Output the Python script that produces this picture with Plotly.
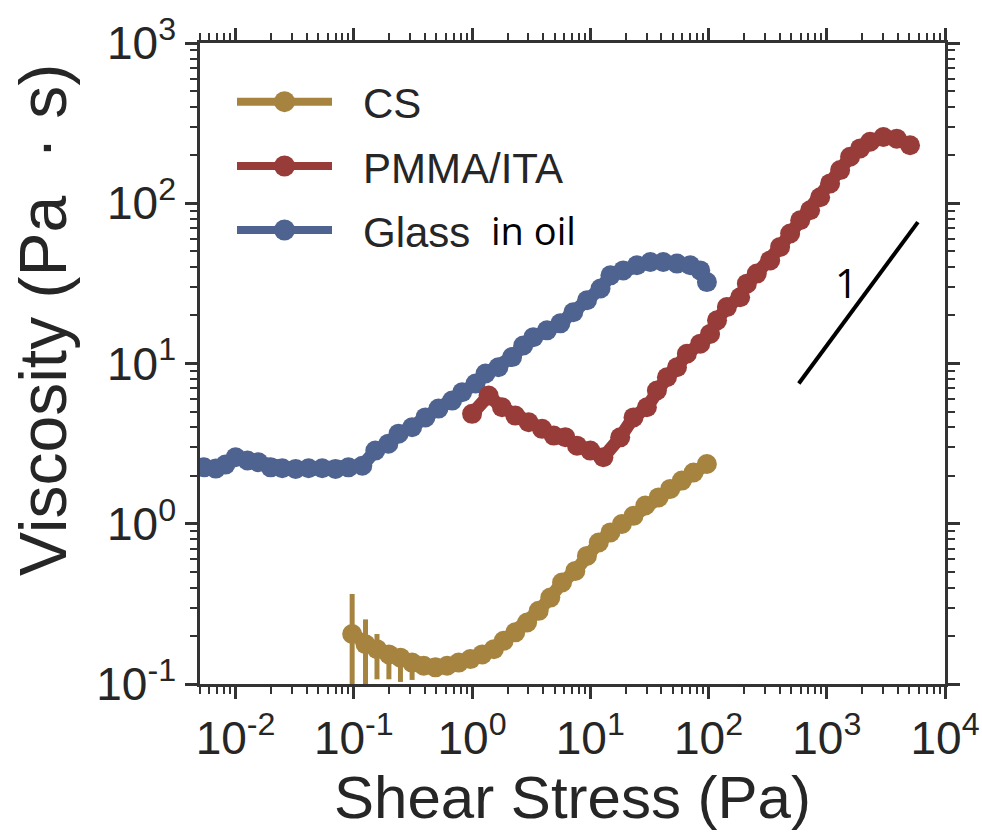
import plotly.graph_objects as go

# ---- data -------------------------------------------------------------
# Glass in oil
glass_stress = [0.0054, 0.0068, 0.0082, 0.0100, 0.0126, 0.0156, 0.0198, 0.0248,
                0.0322, 0.0414, 0.054, 0.070, 0.090, 0.118, 0.152, 0.196, 0.239,
                0.311, 0.403, 0.52, 0.678, 0.824, 1.07, 1.30, 1.67, 2.18, 2.71,
                3.30, 4.30, 5.58, 7.18, 9.38, 12.2, 14.8, 19.0, 24.8, 32.2, 41.4,
                54.1, 70.0, 85.1, 96.9]
glass_visc = [2.25, 2.21, 2.34, 2.60, 2.48, 2.42, 2.25, 2.22, 2.20, 2.22, 2.22,
              2.20, 2.25, 2.30, 2.86, 3.16, 3.65, 4.00, 4.61, 5.23, 5.87, 6.62,
              7.50, 8.66, 9.48, 10.97, 12.96, 14.6, 16.1, 17.8, 20.9, 24.8, 29.4,
              35.5, 38.1, 41.0, 43.0, 43.0, 42.0, 41.0, 38.1, 32.2]

# PMMA/ITA
pmma_stress = [1.00, 1.38, 1.79, 2.32, 3.01, 3.91, 4.90, 6.15, 7.72, 10.0, 12.9,
               17.9, 23.2, 30.1, 36.6, 44.5, 54.1, 65.6, 85.1, 103, 118, 143,
               185, 211, 256, 332, 403, 490, 596, 723, 879, 1067, 1297, 1575,
               1914, 2323, 3013, 3906, 5060]
pmma_visc = [4.85, 6.31, 5.33, 4.73, 4.30, 3.91, 3.55, 3.47, 3.07, 2.86, 2.60,
             3.46, 4.61, 5.33, 6.78, 8.21, 9.48, 11.5, 13.3, 15.3, 18.6, 22.5,
             25.9, 31.5, 36.4, 44.0, 53.4, 64.7, 78.3, 90.4, 109, 133, 161, 195,
             220, 242, 259, 253, 230]

# CS (with error bars on the low-stress points)
cs_stress = [0.0968, 0.1256, 0.157, 0.198, 0.248, 0.311, 0.390, 0.490, 0.615,
             0.771, 0.968, 1.22, 1.53, 1.85, 2.32, 2.92, 3.66, 4.59, 5.77, 7.47,
             9.37, 11.8, 14.8, 18.5, 23.2, 29.2, 37.8, 47.4, 59.5, 74.7, 96.8]
cs_visc = [0.205, 0.177, 0.165, 0.153, 0.146, 0.136, 0.130, 0.127, 0.130, 0.136,
           0.143, 0.153, 0.165, 0.186, 0.21, 0.242, 0.286, 0.346, 0.43, 0.508,
           0.63, 0.764, 0.883, 0.996, 1.12, 1.30, 1.46, 1.65, 1.86, 2.09, 2.36]
cs_err_plus = [0.160, 0.076, 0.040, 0.020, 0.021, 0.012, 0.006, 0.004, 0.003,
               0.003, 0.003, 0.003, 0.003, 0.003, 0.003, 0.003, 0.003, 0.003,
               0.004, 0.004, 0.005, 0.006, 0.007, 0.008, 0.009, 0.01, 0.01,
               0.012, 0.014, 0.016, 0.02]
cs_err_minus = [0.160, 0.080, 0.058, 0.046, 0.043, 0.030, 0.008, 0.004, 0.003,
                0.003, 0.003, 0.003, 0.003, 0.003, 0.003, 0.003, 0.003, 0.003,
                0.004, 0.004, 0.005, 0.006, 0.007, 0.008, 0.009, 0.01, 0.01,
                0.012, 0.014, 0.016, 0.02]

# slope-1 guide line
slope_x = [580, 5900]
slope_y = [7.5, 76.3]

x_tick_vals = [0.01, 0.1, 1, 10, 100, 1000, 10000]
x_tick_text = ["10<sup>-2</sup>", "10<sup>-1</sup>", "10<sup>0</sup>", "10<sup>1</sup>",
               "10<sup>2</sup>", "10<sup>3</sup>", "10<sup>4</sup>"]
y_tick_vals = [0.1, 1, 10, 100, 1000]
y_tick_text = ["10<sup>-1</sup>", "10<sup>0</sup>", "10<sup>1</sup>", "10<sup>2</sup>",
               "10<sup>3</sup>"]

# ---- style ------------------------------------------------------------
GOLD = "#A68440"
RED = "#983C3A"
BLUE = "#4F6390"
INK = "#262626"
AXIS = "#333333"
FONT = "Liberation Sans, Arial, sans-serif"
MS = 20
LW = 13

fig = go.Figure()

fig.add_trace(go.Scatter(
    x=glass_stress, y=glass_visc, mode="lines+markers", name="Glass in oil",
    line=dict(color=BLUE, width=LW), marker=dict(color=BLUE, size=MS)))
fig.add_trace(go.Scatter(
    x=pmma_stress, y=pmma_visc, mode="lines+markers", name="PMMA/ITA",
    line=dict(color=RED, width=LW), marker=dict(color=RED, size=MS)))
fig.add_trace(go.Scatter(
    x=cs_stress, y=cs_visc, mode="lines+markers", name="CS",
    line=dict(color=GOLD, width=LW), marker=dict(color=GOLD, size=MS),
    error_y=dict(type="data", array=cs_err_plus, arrayminus=cs_err_minus,
                 symmetric=False, color=GOLD, thickness=5, width=0)))
fig.add_trace(go.Scatter(
    x=slope_x, y=slope_y, mode="lines", line=dict(color="black", width=4),
    showlegend=False))

# decade minor tick positions
minor_x = [m * 10 ** e for e in range(-3, 4) for m in range(2, 10)]
minor_y = [m * 10 ** e for e in range(-1, 3) for m in range(2, 10)]

axis_common = dict(
    type="log", showgrid=False, zeroline=False, automargin=False,
    showline=True, linecolor=AXIS, linewidth=2.5, mirror="ticks",
    ticks="outside", ticklen=12, tickwidth=2.5, tickcolor=AXIS,
    tickfont=dict(family=FONT, size=46, color=INK),
)

fig.update_xaxes(
    **axis_common, range=[-2.30103, 4], tickmode="array",
    tickvals=x_tick_vals, ticktext=x_tick_text,
    minor=dict(tickmode="array", tickvals=minor_x, ticks="outside",
               ticklen=7, tickwidth=2, tickcolor=AXIS),
    title=dict(text="Shear Stress (Pa)", font=dict(family=FONT, size=60, color=INK),
               standoff=10),
)
fig.update_yaxes(
    **axis_common, range=[-1, 3], tickmode="array",
    tickvals=y_tick_vals, ticktext=y_tick_text,
    minor=dict(tickmode="array", tickvals=minor_y, ticks="outside",
               ticklen=7, tickwidth=2, tickcolor=AXIS),
)

# ---- legend drawn by hand (long line + marker) ---------------------------
def px_x(p):
    return (p - 200) / 745


def px_y(p):
    return (684 - p) / 641


shapes = []
annotations = []
legend_rows = [("CS", GOLD, 101.7), ("PMMA/ITA", RED, 166), ("Glass", BLUE, 230)]
for label, color, yy in legend_rows:
    shapes.append(dict(type="line", xref="paper", yref="paper",
                       x0=px_x(237), x1=px_x(332), y0=px_y(yy), y1=px_y(yy),
                       line=dict(color=color, width=8)))
    shapes.append(dict(type="circle", xref="paper", yref="paper",
                       xsizemode="pixel", ysizemode="pixel",
                       xanchor=px_x(284.5), yanchor=px_y(yy),
                       x0=-10.5, x1=10.5, y0=-10.5, y1=10.5,
                       fillcolor=color, line=dict(width=0)))
    annotations.append(dict(xref="paper", yref="paper", x=px_x(361), y=px_y(yy + 2),
                            xanchor="left", yanchor="middle", showarrow=False,
                            text=label, font=dict(family=FONT, size=42, color=INK)))

annotations.append(dict(xref="paper", yref="paper", x=px_x(489), y=px_y(230),
                        xanchor="left", yanchor="middle", showarrow=False,
                        text="in oil", font=dict(family="Open Sans", size=38, color="black")))
annotations.append(dict(xref="paper", yref="paper", x=px_x(846.7), y=px_y(282),
                        xanchor="center", yanchor="middle", showarrow=False,
                        text="1", font=dict(family="Open Sans", size=40, color="black")))
# y-axis title
annotations.append(dict(xref="paper", yref="paper", x=px_x(43), y=px_y(320),
                        xanchor="center", yanchor="middle", showarrow=False,
                        textangle=-90, text="Viscosity (Pa  \u00b7 s)",
                        font=dict(family=FONT, size=66, color=INK)))

fig.update_layout(
    width=982, height=833,
    margin=dict(l=200, r=37, t=43, b=149),
    paper_bgcolor="white", plot_bgcolor="white",
    showlegend=False,
    shapes=shapes, annotations=annotations,
)

fig.write_html("out.html")
